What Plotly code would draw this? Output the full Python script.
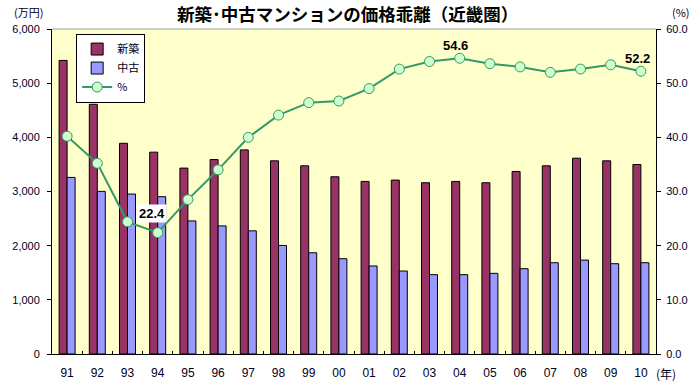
import plotly.graph_objects as go

years = ["91","92","93","94","95","96","97","98","99","00",
         "01","02","03","04","05","06","07","08","09","10"]
new_price = [5420, 4610, 3890, 3726, 3432, 3590, 3768, 3566, 3474, 3272,
             3186, 3211, 3162, 3186, 3162, 3370, 3474, 3615, 3566, 3498]
used_price = [3260, 3002, 2953, 2904, 2457, 2365, 2274, 2004, 1869, 1759,
              1625, 1532, 1465, 1465, 1489, 1575, 1685, 1734, 1667, 1685]
gap_pct = [40.2, 35.2, 24.4, 22.4, 28.5, 34.0, 40.0, 44.1, 46.4, 46.7,
           49.0, 52.6, 54.0, 54.6, 53.6, 53.0, 52.0, 52.6, 53.4, 52.2]

labeled_years = ["94", "04", "10"]

FONT = "Liberation Sans, Arial, sans-serif"
CJK = "Noto Sans CJK JP, sans-serif"
TXT = "#000022"

fig = go.Figure()
fig.add_trace(go.Bar(x=years, y=new_price, name="新築",
                     marker=dict(color="#993366", line=dict(color="#000000", width=1))))
fig.add_trace(go.Bar(x=years, y=used_price, name="中古",
                     marker=dict(color="#9999FF", line=dict(color="#000000", width=1))))
fig.add_trace(go.Scatter(x=years, y=gap_pct, name="%", yaxis="y2", mode="lines+markers",
                         line=dict(color="#339966", width=2),
                         marker=dict(size=10, color="#CCFFCC", line=dict(color="#339966", width=1))))

label_style = {"94": (-6, 19, True), "04": (-4, 13, False), "10": (-3, 13, False)}
for yr in labeled_years:
    i = years.index(yr)
    v = gap_pct[i]
    xs, ys, box = label_style[yr]
    fig.add_annotation(x=i, y=v, xref="x", yref="y2", text=f"<b>{v:.1f}</b>", showarrow=False,
                       xshift=xs, yshift=ys, font=dict(family=FONT, size=13, color="#000000"),
                       bgcolor="#FFFFFF" if box else None, borderpad=1)

fig.add_annotation(xref="paper", yref="paper", x=0.49, y=1.0, yshift=16, yanchor="middle",
                   text="<b>新築･中古マンションの価格乖離（近畿圏）</b>",
                   showarrow=False, font=dict(family=CJK, size=17.5, color="#000000"), xanchor="center")
fig.add_annotation(xref="paper", yref="paper", x=0, y=1.0, xshift=-7, yshift=17.5, yanchor="middle", text="(万円)",
                   showarrow=False, font=dict(family=CJK, size=11, color=TXT), xanchor="right")
fig.add_annotation(xref="paper", yref="paper", x=1, y=1.0, xshift=14, yshift=17.5, yanchor="middle", text="(%)",
                   showarrow=False, font=dict(family=CJK, size=11, color=TXT), xanchor="left")
fig.add_annotation(xref="paper", yref="paper", x=1, y=0, xshift=-2, yshift=-19.5, text="(年)",
                   showarrow=False, font=dict(family=CJK, size=12, color=TXT), xanchor="left", yanchor="middle")

fig.add_shape(type="line", xref="paper", yref="paper", x0=0, x1=1, y0=1, y1=1,
              line=dict(color="#A0A0A0", width=1))

fig.update_layout(
    width=700, height=392,
    margin=dict(l=52, r=43, t=29, b=36),
    paper_bgcolor="#FFFFFF", plot_bgcolor="#FFFFCC",
    barmode="group", bargap=0.47, bargroupgap=0,
    font=dict(family=FONT, size=11, color=TXT),
    showlegend=True,
    legend=dict(x=0.04, y=0.986, xanchor="left", yanchor="top", bgcolor="#FFFFFF",
                bordercolor="#000000", borderwidth=1, font=dict(family=CJK, size=11, color=TXT),
                tracegroupgap=0, itemwidth=30),
    xaxis=dict(type="category", range=[-0.5, 19.5], showline=True, linecolor="#000000", linewidth=1,
               ticks="inside", ticklen=3, tickson="boundaries", tickcolor="#000000", tickangle=0,
               ticklabelstandoff=8,
               tickfont=dict(family=FONT, size=12, color=TXT), showgrid=False, zeroline=False),
    yaxis=dict(range=[0, 6000], dtick=1000, tickformat=",", showline=True, linecolor="#000000",
               ticks="outside", ticklen=4, tickcolor="#000000", showgrid=False, zeroline=False,
               ticklabelstandoff=5,
               tickfont=dict(family=FONT, size=11, color=TXT)),
    yaxis2=dict(range=[0, 60], dtick=10, tickformat=".1f", overlaying="y", side="right",
                showline=True, linecolor="#000000", ticks="outside", ticklen=4, tickcolor="#000000",
                showgrid=False, zeroline=False, ticklabelstandoff=3,
                tickfont=dict(family=FONT, size=11, color=TXT)),
)

fig.write_html("out.html", config={"displayModeBar": False},
               post_script="document.body.style.margin='0';")
